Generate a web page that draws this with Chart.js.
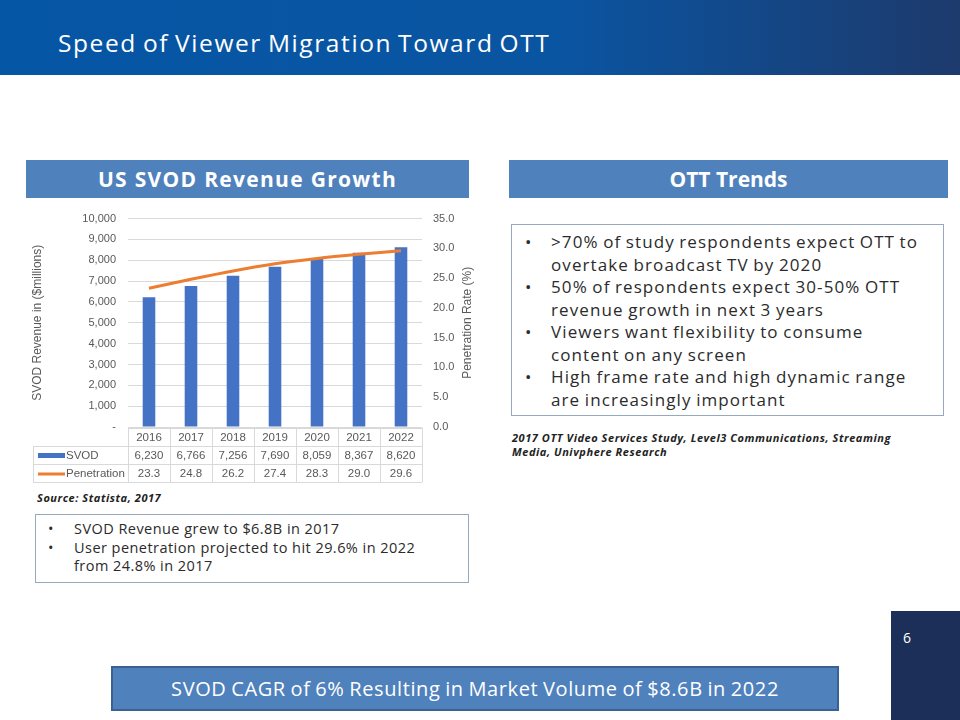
<!DOCTYPE html>
<html>
<head>
<meta charset="utf-8">
<script src="https://cdn.jsdelivr.net/npm/chart.js@4"></script>
<style>
  html, body { margin:0; padding:0; background:#fff; }
  body { width:960px; height:720px; position:relative; overflow:hidden; font-family:"Open Sans", sans-serif; }
  .hdr { position:absolute; left:0; top:0; width:960px; height:75px;
         background:linear-gradient(90deg,#0556a5 0%,#0a55a2 58%,#1d3a6c 100%); }
  .hdr span { position:absolute; left:58px; top:26px; color:#fff; font-size:24.5px; letter-spacing:1.6px; word-spacing:-2px; }
  .band { position:absolute; height:38px; background:#4f81bd; color:#fff; font-weight:700;
          font-size:21px; text-align:center; line-height:38px; }
  .box { position:absolute; border:1px solid #95a9bf; box-sizing:border-box; color:#2b2b2b; }
  .box ul { margin:0; padding:0; list-style:none; }
  .box li { position:relative; }
  .box li::before { content:"•"; position:absolute; left:var(--bx); letter-spacing:0; }
  .cite { position:absolute; font-weight:700; font-style:italic; font-size:11px; color:#222; line-height:14px; letter-spacing:0.55px; }
  #chartWrap { position:absolute; left:20px; top:200px; width:460px; height:290px; }
  .pg { position:absolute; left:891px; top:611px; width:69px; height:109px; background:#1b2f59; }
  .pg span { position:absolute; left:12px; top:17px; color:#fff; font-size:14px; }
  .cagr { position:absolute; left:111px; top:666px; width:728px; height:45px; box-sizing:border-box;
          background:#4f81bd; border:2px solid #3b6192; color:#fff; font-size:20px; letter-spacing:0.6px; word-spacing:-1px;
          text-align:center; line-height:41px; }
</style>
</head>
<body>
<div class="hdr"><span>Speed of Viewer Migration Toward OTT</span></div>

<div class="band" style="left:26px; top:160px; width:443px; letter-spacing:1.3px;">US SVOD Revenue Growth</div>
<div class="band" style="left:509px; top:160px; width:439px;">OTT Trends</div>

<div id="chartWrap"><canvas id="svodChart" width="460" height="290"></canvas></div>

<div class="cite" style="left:37px; top:491px;">Source: Statista, 2017</div>

<div class="box" style="left:35px; top:514px; width:434px; height:69px; padding:5px 0 0 0; font-size:14.5px; line-height:18.5px; letter-spacing:0.45px;">
  <ul id="leftNotes"></ul>
</div>

<div class="box" style="left:511px; top:224px; width:433px; height:192px; padding:6px 0 0 0; font-size:17px; line-height:22.5px; letter-spacing:1.1px; word-spacing:-1px;">
  <ul id="rightNotes"></ul>
</div>

<div class="cite" style="left:512px; top:431px; width:400px;">2017 OTT Video Services Study, Level3 Communications, Streaming Media, Univphere Research</div>

<div class="pg"><span>6</span></div>
<div class="cagr">SVOD CAGR of 6% Resulting in Market Volume of $8.6B in 2022</div>

<script>
// ---------- DATA ----------
const years       = ["2016","2017","2018","2019","2020","2021","2022"];
const svodRevenue = [6230, 6766, 7256, 7690, 8059, 8367, 8620];
const penetration = [23.3, 24.8, 26.2, 27.4, 28.3, 29.0, 29.6];
const revenueTicks = [0,1000,2000,3000,4000,5000,6000,7000,8000,9000,10000];
const rateTicks    = [0,5,10,15,20,25,30,35];

const leftNotes = [
  "SVOD Revenue grew to $6.8B in 2017",
  "User penetration projected to hit 29.6% in 2022 from 24.8% in 2017"
];
const rightNotes = [
  ">70% of study respondents expect OTT to overtake broadcast TV by 2020",
  "50% of respondents expect 30-50% OTT revenue growth in next 3 years",
  "Viewers want flexibility to consume content on any screen",
  "High frame rate and high dynamic range are increasingly important"
];

// ---------- NOTES ----------
function fillList(id, items, indent, bulletX, padR){
  const ul = document.getElementById(id);
  ul.innerHTML = items.map(t => `<li style="padding-left:${indent}px; padding-right:${padR}px; --bx:${bulletX}px;">${t}</li>`).join('');
}
fillList('leftNotes', leftNotes, 38, 12, 30);
fillList('rightNotes', rightNotes, 39, 13, 12);

// ---------- TABLE + RIGHT TITLE PLUGIN ----------
const GRID = '#d9d9d9', TXT = '#595959';
const FAM = '"Liberation Sans", Arial, sans-serif';
const fmtRev = v => v.toLocaleString('en-US');

const dataTable = {
  id: 'dataTable',
  afterDraw(chart){
    const { ctx, chartArea, scales:{ x } } = chart;
    const half = (x.getPixelForValue(1) - x.getPixelForValue(0)) / 2;
    const tl = 13, colL = chartArea.left, colR = chartArea.right;
    const rowH = 18, top = chartArea.bottom + 1;
    ctx.save();
    ctx.strokeStyle = GRID; ctx.lineWidth = 1;
    ctx.beginPath();
    ctx.moveTo(colL, top + .5); ctx.lineTo(colR, top + .5);
    for (let r = 1; r <= 3; r++){
      const y = top + r * rowH + .5;
      ctx.moveTo(tl, y); ctx.lineTo(colR, y);
    }
    ctx.moveTo(tl + .5, top + rowH); ctx.lineTo(tl + .5, top + 3 * rowH);
    for (let i = 0; i <= years.length; i++){
      const xx = Math.round(x.getPixelForValue(i) - half) + .5;
      ctx.moveTo(xx, top); ctx.lineTo(xx, top + 3 * rowH);
    }
    ctx.stroke();

    ctx.font = '11.5px ' + FAM; ctx.fillStyle = TXT; ctx.textBaseline = 'middle';
    ctx.textAlign = 'center';
    years.forEach((yr, i) => {
      const cx = x.getPixelForValue(i);
      ctx.fillText(yr, cx, top + rowH * .5 + 1);
      ctx.fillText(fmtRev(svodRevenue[i]), cx, top + rowH * 1.5 + 1);
      ctx.fillText(penetration[i].toFixed(1), cx, top + rowH * 2.5 + 1);
    });
    // legend keys
    const ds = chart.data.datasets;
    const bar = ds.find(d => d.type === 'bar'), line = ds.find(d => d.type === 'line');
    ctx.fillStyle = bar.backgroundColor;
    ctx.fillRect(tl + 5, top + rowH * 1.5 - 2, 27, 5);
    ctx.strokeStyle = line.borderColor; ctx.lineWidth = 3;
    ctx.beginPath();
    ctx.moveTo(tl + 5, top + rowH * 2.5 + 1); ctx.lineTo(tl + 32, top + rowH * 2.5 + 1);
    ctx.stroke();
    ctx.fillStyle = TXT; ctx.textAlign = 'left';
    ctx.fillText(bar.label, tl + 33, top + rowH * 1.5 + 1);
    ctx.fillText(line.label, tl + 33, top + rowH * 2.5 + 1);

    // right axis title, reading bottom-to-top
    const t = chart.options.scales.y1.title;
    ctx.translate(448, (chartArea.top + chartArea.bottom) / 2);
    ctx.rotate(-Math.PI / 2);
    ctx.font = '12px ' + FAM; ctx.textAlign = 'center';
    ctx.fillText(t.text, 0, 0);
    ctx.restore();
  }
};

// ---------- CHART ----------
new Chart(document.getElementById('svodChart'), {
  type: 'bar',
  data: {
    labels: years,
    datasets: [
      { type:'bar', label:'SVOD', data: svodRevenue, yAxisID:'y',
        backgroundColor:'#4472c4', barPercentage:0.6, categoryPercentage:0.5, order:1 },
      { type:'line', label:'Penetration', data: penetration, yAxisID:'y1',
        borderColor:'#ed7d31', backgroundColor:'#ed7d31', borderWidth:3,
        pointRadius:0, tension:0.3, order:0 }
    ]
  },
  options: {
    responsive:false, animation:false,
    layout:{ padding:{ top:16, bottom:63, left:0, right:0 } },
    plugins:{ legend:{ display:false }, tooltip:{ enabled:false } },
    scales:{
      x:{ ticks:{ display:false }, grid:{ display:false, drawTicks:false }, border:{ display:false },
          afterFit: s => { s.height = 0; } },
      y:{ position:'left', min:0, max:10000,
          afterBuildTicks: s => { s.ticks = revenueTicks.map(v => ({ value:v })); },
          ticks:{ color:TXT, font:{ family:FAM, size:11 }, padding:12,
                  callback: v => v === 0 ? '-' : fmtRev(v) },
          grid:{ color:GRID, drawTicks:false }, border:{ display:false },
          title:{ display:true, text:'SVOD Revenue in ($millions)', color:TXT,
                  font:{ family:FAM, size:12 }, padding:{ top:10, bottom:0 } },
          afterFit: s => { s.width = 108; } },
      y1:{ position:'right', min:0, max:35,
           afterBuildTicks: s => { s.ticks = rateTicks.map(v => ({ value:v })); },
           ticks:{ color:TXT, font:{ family:FAM, size:11 }, padding:11,
                   callback: v => v.toFixed(1) },
           grid:{ display:false, drawTicks:false }, border:{ display:false },
           title:{ display:false, text:'Penetration Rate (%)' },
           afterFit: s => { s.width = 58; } }
    }
  },
  plugins:[dataTable]
});
</script>
</body>
</html>
